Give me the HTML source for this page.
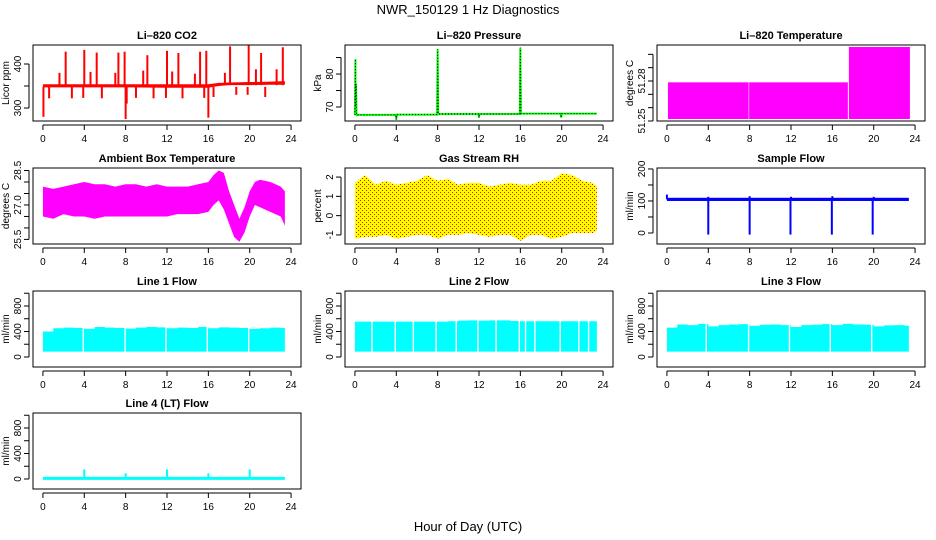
<!DOCTYPE html>
<html><head><meta charset="utf-8"><style>
html,body{margin:0;padding:0;background:#fff;}
svg{display:block;font-family:"Liberation Sans",sans-serif;}
</style></head><body>
<svg id="chart" width="936" height="540" viewBox="0 0 936 540">
<defs>
<pattern id="rhpat" width="4" height="4" patternUnits="userSpaceOnUse">
<rect width="4" height="4" fill="#ffff00"/><rect x="0" y="0" width="1" height="1" fill="#ff0000"/><rect x="2" y="2" width="1" height="1" fill="#ff0000"/>
</pattern>
</defs>
<text x="468" y="14" text-anchor="middle" font-size="13">NWR_150129 1 Hz Diagnostics</text>
<text x="468" y="531" text-anchor="middle" font-size="13">Hour of Day (UTC)</text>
</svg>
<script>
// ---- data ----
const xTicks = [0,4,8,12,16,20,24];
// CO2
const co2BaseHours = [0,4,8,12,16,17,18,20,22,23.4];
const co2BaseLo = [347,347,347,346,346,350,352,352,353,353];
const co2BaseHi = [354,354,354,354,354,357,358,359,360,361];
const co2SpikeHours = [2.2,4.0,5.2,7.3,7.9,10.1,12.0,13.1,15.2,15.8,18.1,19.9,21.1,23.2,1.6,4.6,7.0,9.7,12.5,14.7,17.6,20.6,22.6,0.05,8.0,16.0,8.1,0.6,2.8,3.9,5.7,9.0,10.7,11.9,13.5,15.6,16.5,18.7,19.8,21.5];
const co2SpikeVals = [428,432,426,426,428,420,430,425,428,430,440,442,425,438,380,382,380,385,383,378,380,388,388,280,275,278,310,322,322,323,322,323,322,323,322,323,325,330,330,325];
// Pressure
const presHours = [0,0.05,0.06,0.1,0.15,0.2,0.3,3.95,4.0,4.05,7.95,8.0,8.05,11.95,12.0,12.05,15.95,16.0,16.05,19.9,19.95,20.0,23.4];
const presVals = [67.5,84.5,70,77,68,67.5,67.6,67.6,66.2,67.7,67.7,87.5,67.9,67.9,66.8,67.9,67.9,88,68,68,66.8,68,68];
// Li-820 temperature
const ltStart = [0.1,7.95,17.6];
const ltEnd = [7.9,17.5,23.5];
const ltVals = [51.279,51.279,51.3055];
// Ambient box temperature
const ambHours = [0,1,2,3,4,5,6,7,8,9,10,11,12,13,14,15,16,16.5,17,17.5,18,18.5,19,19.5,20,20.5,21,22,23,23.4];
const ambTop = [27.8,27.7,27.8,27.9,28.0,27.9,27.9,27.8,27.9,27.9,27.8,27.9,27.8,27.8,27.8,27.9,28.0,28.3,28.5,28.4,27.6,27.0,26.4,26.9,27.6,28.0,28.1,28.0,27.8,27.6];
const ambBot = [26.5,26.4,26.6,26.5,26.5,26.4,26.5,26.5,26.5,26.5,26.5,26.5,26.5,26.6,26.6,26.6,26.7,27.0,27.2,26.8,26.2,25.6,25.4,25.8,26.5,27.0,26.9,26.7,26.5,26.1];
// Gas stream RH
const rhHours = [0,1,2,3,4,5,6,7,8,9,10,11,12,13,14,15,16,17,18,19,20,21,22,23,23.4];
const rhTop = [1.7,2.1,1.6,1.8,1.6,1.7,1.8,2.1,1.8,1.9,1.6,1.7,1.7,1.5,1.6,1.7,1.6,1.6,1.8,1.8,2.2,2.1,1.8,1.7,1.5];
const rhBot = [-1.2,-1.1,-1.1,-1.0,-1.2,-1.1,-1.0,-1.0,-1.2,-1.0,-1.0,-0.9,-1.0,-1.1,-1.0,-1.0,-1.3,-1.0,-1.0,-1.2,-1.1,-0.9,-0.9,-0.9,-0.8];
// Sample flow
const sfBandLo = 100, sfBandHi = 110;
const sfDipHours = [4.0,8.0,11.95,15.95,19.9];
const sfDipVals = [-5,-5,-5,-5,-5];
const sfUpHours = [0.0,4.0,8.0,12.0,16.0,20.0];
const sfUpVals = [120,113,115,113,115,113];
// Line flows (hourly top envelope)
const flowHours = [0,1,2,3,4,5,6,7,8,9,10,11,12,13,14,15,16,17,18,19,20,21,22,23,23.4];
const l1Tops = [400,450,460,455,440,470,460,455,445,460,470,465,450,460,455,470,450,465,460,455,440,450,460,455,440];
const l2Tops = [555,555,555,555,555,555,555,555,555,560,570,575,570,575,575,565,560,560,560,560,560,560,560,560,560];
const l3Tops = [460,510,500,520,480,500,510,515,490,505,510,500,470,500,505,515,500,520,510,505,480,495,500,490,480];
const l1Lo = 85, l1Gaps = [3.9,7.95,11.9,15.9,19.9];
const l2Lo = 85, l2Gaps = [1.65,3.9,5.65,7.85,9.8,11.9,13.65,15.9,16.5,17.4,19.85,21.65,22.6];
const l3Lo = 85, l3Gaps = [3.8,7.9,11.85,15.8,19.8];
const l4Base = 10;
const l4SpikeHours = [4.0,8.0,12.0,16.0,20.0];
const l4SpikeVals = [150,90,150,90,150];

// ---- drawing ----
const NS = "http://www.w3.org/2000/svg";
const svg = document.getElementById('chart');
function mk(tag, attrs, parent){const e=document.createElementNS(NS,tag);for(const k in attrs)e.setAttribute(k,attrs[k]);(parent||svg).appendChild(e);return e;}

function panel(o){
  const g = mk('g',{});
  
  
  const L=o.L, T=o.B-76, W=268, H=76, B=o.B;
  const xs = h => L + W*(h+0.96)/25.92;
  const ys = v => B - H*(v-o.ymin)/(o.ymax-o.ymin);
  const t = mk('text',{x:L+W/2,y:T-6,'text-anchor':'middle','font-size':11,'font-weight':'bold'},g);
  t.textContent=o.title;
  
  
  const yl = mk('text',{x:0,y:0,'text-anchor':'middle','font-size':10,transform:`translate(${L-24},${T+H/2}) rotate(-90)`},g);
  yl.textContent=o.ylab;
  
  
  const plot = mk('g',{},g);
  
  
  o.draw(plot, xs, ys);
  const box = mk('rect',{x:L,y:T,width:W,height:H,fill:'none',stroke:'#000','stroke-width':1},g);
  
  
  mk('line',{x1:xs(0),x2:xs(24),y1:B+4,y2:B+4,stroke:'#000'},g);
  xTicks.forEach(h=>{
    mk('line',{x1:xs(h),x2:xs(h),y1:B+4,y2:B+9,stroke:'#000'},g);
    const tx=mk('text',{x:xs(h),y:B+21,'text-anchor':'middle','font-size':10},g);
    tx.textContent=h;
    
    
  });
  mk('line',{x1:L-4,x2:L-4,y1:ys(o.yticks[0]),y2:ys(o.yticks[o.yticks.length-1]),stroke:'#000'},g);
  o.yticks.forEach(v=>{mk('line',{x1:L-9,x2:L-4,y1:ys(v),y2:ys(v),stroke:'#000'},g);});
  o.ylabels.forEach(v=>{
    const ty=mk('text',{x:0,y:0,'text-anchor':'middle','font-size':10,transform:`translate(${L-12},${ys(v)}) rotate(-90)`},g);
    ty.textContent=o.fmt?o.fmt(v):v;
    
    
  });
}
function bandPoly(p, xs, ys, hours, top, bot, fill, name){
  let pts=[];
  hours.forEach((h,i)=>pts.push(xs(h)+','+ys(top[i])));
  for(let i=hours.length-1;i>=0;i--)pts.push(xs(hours[i])+','+ys(bot[i]));
  const e=mk('polygon',{points:pts.join(' '),fill:fill,stroke:'none'},p);
  
  
}
function flowBand(p,xs,ys,lo,tops,gaps,name){
  // stepped top envelope
  let pts=[];
  flowHours.forEach((h,i)=>{
    const h2 = i<flowHours.length-1?flowHours[i+1]:h;
    pts.push(xs(h)+','+ys(tops[i]));
    pts.push(xs(h2)+','+ys(tops[i]));
  });
  pts.push(xs(flowHours[flowHours.length-1])+','+ys(lo));
  pts.push(xs(flowHours[0])+','+ys(lo));
  const r=mk('polygon',{points:pts.join(' '),fill:'#00ffff'},p);
  
  
  const mx=Math.max(...tops);
  gaps.forEach(h=>{
    const gp=mk('rect',{x:xs(h)-0.7,y:ys(mx)-1,width:1.4,height:ys(lo)-ys(mx)+2,fill:'#fff'},p);
    
    
  });
}
const cols=[33,345,657], rows=[121,244,367,489];
const flowTicks=[0,200,400,600,800,1000], flowLabels=[0,400,800];

panel({name:'co2',title:'Li\u2013820 CO2',ylab:'Licor ppm',L:cols[0],B:rows[0],ymin:270.5,ymax:443.2,yticks:[300,350,400],ylabels:[300,400],
 draw:(p,xs,ys)=>{
  bandPoly(p,xs,ys,co2BaseHours,co2BaseHi,co2BaseLo,'#ff0000','co2-baseline');
  co2SpikeHours.forEach((h,i)=>{
    const base = co2SpikeVals[i]>350?352:348;
    const l=mk('line',{x1:xs(h),x2:xs(h),y1:ys(base),y2:ys(co2SpikeVals[i]),stroke:'#ff0000','stroke-width':2},p);
    
    
  });
 }});
panel({name:'pressure',title:'Li\u2013820 Pressure',ylab:'kPa',L:cols[1],B:rows[0],ymin:65.76,ymax:88.8,yticks:[70,75,80,85],ylabels:[70,80],
 draw:(p,xs,ys)=>{
  const pts=presHours.map((h,i)=>xs(h)+','+ys(presVals[i])).join(' ');
  const a=mk('polyline',{points:pts,fill:'none',stroke:'#00ff00','stroke-width':2},p);
  
  
  const b=mk('polyline',{points:pts,fill:'none',stroke:'#000','stroke-width':1,'stroke-dasharray':'1,2'},p);
  
  
 }});
panel({name:'li820-temperature',title:'Li\u2013820 Temperature',ylab:'degrees C',L:cols[2],B:rows[0],ymin:51.25,ymax:51.307,yticks:[51.25,51.26,51.27,51.28,51.29,51.30],ylabels:[51.25,51.28],fmt:v=>v.toFixed(2),
 draw:(p,xs,ys)=>{
  ltStart.forEach((s,i)=>{
    const r=mk('rect',{x:xs(s),y:ys(ltVals[i]),width:xs(ltEnd[i])-xs(s),height:ys(51.2515)-ys(ltVals[i]),fill:'#ff00ff'},p);
    
    
  });
 }});
panel({name:'ambient-temperature',title:'Ambient Box Temperature',ylab:'degrees C',L:cols[0],B:rows[1],ymin:25.30,ymax:28.61,yticks:[25.5,26,26.5,27,27.5,28,28.5],ylabels:[25.5,27.0,28.5],fmt:v=>v.toFixed(1),
 draw:(p,xs,ys)=>{bandPoly(p,xs,ys,ambHours,ambTop,ambBot,'#ff00ff','ambient-band');}});
panel({name:'gas-rh',title:'Gas Stream RH',ylab:'percent',L:cols[1],B:rows[1],ymin:-1.47,ymax:2.47,yticks:[-1,0,1,2],ylabels:[-1,0,1,2],
 draw:(p,xs,ys)=>{bandPoly(p,xs,ys,rhHours,rhTop,rhBot,'url(#rhpat)','rh-band');}});
panel({name:'sample-flow',title:'Sample Flow',ylab:'ml/min',L:cols[2],B:rows[1],ymin:-34.4,ymax:203,yticks:[0,50,100,150,200],ylabels:[0,100,200],
 draw:(p,xs,ys)=>{
  const r=mk('rect',{x:xs(0),y:ys(sfBandHi),width:xs(23.4)-xs(0),height:ys(sfBandLo)-ys(sfBandHi),fill:'#0000ff'},p);
  
  
  sfDipHours.forEach((h,i)=>{
    const l=mk('line',{x1:xs(h),x2:xs(h),y1:ys(100),y2:ys(sfDipVals[i]),stroke:'#0000ff','stroke-width':2},p);
    
    
  });
  sfUpHours.forEach((h,i)=>{
    const l=mk('line',{x1:xs(h),x2:xs(h),y1:ys(105),y2:ys(sfUpVals[i]),stroke:'#0000ff','stroke-width':2},p);
    
    
  });
 }});
panel({name:'line1-flow',title:'Line 1 Flow',ylab:'ml/min',L:cols[0],B:rows[2],ymin:-157,ymax:1035,yticks:flowTicks,ylabels:flowLabels,
 draw:(p,xs,ys)=>flowBand(p,xs,ys,l1Lo,l1Tops,l1Gaps,'line1-flow')});
panel({name:'line2-flow',title:'Line 2 Flow',ylab:'ml/min',L:cols[1],B:rows[2],ymin:-157,ymax:1035,yticks:flowTicks,ylabels:flowLabels,
 draw:(p,xs,ys)=>flowBand(p,xs,ys,l2Lo,l2Tops,l2Gaps,'line2-flow')});
panel({name:'line3-flow',title:'Line 3 Flow',ylab:'ml/min',L:cols[2],B:rows[2],ymin:-157,ymax:1035,yticks:flowTicks,ylabels:flowLabels,
 draw:(p,xs,ys)=>flowBand(p,xs,ys,l3Lo,l3Tops,l3Gaps,'line3-flow')});
panel({name:'line4-flow',title:'Line 4 (LT) Flow',ylab:'ml/min',L:cols[0],B:rows[3],ymin:-157,ymax:1035,yticks:flowTicks,ylabels:flowLabels,
 draw:(p,xs,ys)=>{
  const l=mk('line',{x1:xs(0),x2:xs(23.4),y1:ys(l4Base),y2:ys(l4Base),stroke:'#00ffff','stroke-width':3},p);
  
  
  l4SpikeHours.forEach((h,i)=>{
    const s=mk('line',{x1:xs(h),x2:xs(h),y1:ys(l4Base),y2:ys(l4SpikeVals[i]),stroke:'#00ffff','stroke-width':2},p);
    
    
  });
 }});
</script>
</body></html>
